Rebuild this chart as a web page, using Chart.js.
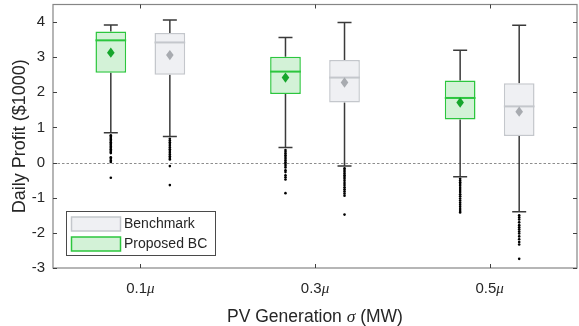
<!DOCTYPE html>
<html>
<head>
<meta charset="utf-8">
<script src="https://cdn.jsdelivr.net/npm/chart.js@4.4.1/dist/chart.umd.min.js"></script>
<style>
  html, body { margin: 0; padding: 0; background: #fff; }
  canvas { display: block; }
</style>
</head>
<body>
<canvas id="c" width="579" height="326"></canvas>
<script>
// PV generation spread levels (multiples of mu)
const categories = ['0.1', '0.3', '0.5'];
const yTicks = [-3, -2, -1, 0, 1, 2, 3, 4];

// Proposed BC daily profit statistics ($1000)
const propHigh   = [3.92, 3.56, 3.20];
const propQ3     = [3.73, 3.01, 2.34];
const propMedian = [3.48, 2.59, 1.84];
const propQ1     = [2.56, 1.95, 1.23];
const propLow    = [0.85, 0.43, -0.40];
const propMean   = [3.13, 2.42, 1.71];
const propOutliers = [
  [0.78, 0.74, 0.70, 0.66, 0.62, 0.58, 0.54, 0.50, 0.46, 0.42, 0.38, 0.34, 0.30, 0.27, 0.15, 0.11, 0.06, 0.02, -0.43],
  [0.36, 0.31, 0.26, 0.21, 0.16, 0.11, 0.06, 0.01, -0.04, -0.09, -0.14, -0.22, -0.27, -0.36, -0.42, -0.48, -0.87],
  [-0.46, -0.51, -0.56, -0.61, -0.66, -0.72, -0.78, -0.84, -0.90, -0.96, -1.02, -1.08, -1.14, -1.20, -1.26, -1.32, -1.38, -1.42]
];

// Benchmark daily profit statistics ($1000)
const benchHigh   = [4.06, 3.99, 3.91];
const benchQ3     = [3.69, 2.92, 2.26];
const benchMedian = [3.42, 2.42, 1.60];
const benchQ1     = [2.50, 1.71, 0.76];
const benchLow    = [0.74, -0.10, -1.40];
const benchMean   = [3.06, 2.28, 1.45];
const benchOutliers = [
  [0.68, 0.63, 0.58, 0.53, 0.48, 0.43, 0.38, 0.33, 0.28, 0.23, 0.18, 0.13, 0.09, -0.10, -0.64],
  [-0.16, -0.21, -0.26, -0.31, -0.36, -0.41, -0.46, -0.52, -0.58, -0.64, -0.70, -0.76, -0.82, -0.88, -0.94, -1.48],
  [-1.50, -1.56, -1.62, -1.70, -1.78, -1.84, -1.90, -1.96, -2.02, -2.10, -2.18, -2.26, -2.33, -2.74]
];

const seriesNames = ['Proposed BC', 'Benchmark'];

const green = { fill: 'rgb(211,242,215)', line: 'rgb(44,198,62)', mean: 'rgb(22,166,44)' };
const grey  = { fill: 'rgb(239,240,243)', line: 'rgb(196,199,204)', mean: 'rgb(168,171,176)' };

const stats = [
  { high: propHigh, q3: propQ3, med: propMedian, q1: propQ1, low: propLow, mean: propMean, out: propOutliers, col: green },
  { high: benchHigh, q3: benchQ3, med: benchMedian, q1: benchQ1, low: benchLow, mean: benchMean, out: benchOutliers, col: grey }
];

const FONT = '"Liberation Sans", Arial, sans-serif';
const GREEK = '"Liberation Serif", "Times New Roman", serif';
const TEXT = '#262626';

// draw a run of text pieces with different fonts, centred on x
function drawRich(ctx, parts, x, y) {
  let total = 0;
  parts.forEach(p => { ctx.font = p.font; total += ctx.measureText(p.text).width; });
  let cx = x - total / 2;
  ctx.textAlign = 'left';
  parts.forEach(p => { ctx.font = p.font; ctx.fillText(p.text, cx, y); cx += ctx.measureText(p.text).width; });
}

const boxPlot = {
  id: 'boxPlot',
  beforeDatasetsDraw(chart) {
    const { ctx, chartArea: a, scales: { y } } = chart;
    ctx.save();
    // zero reference line
    const y0 = Math.round(y.getPixelForValue(0)) + 0.5;
    ctx.strokeStyle = '#707070';
    ctx.lineWidth = 0.8;
    ctx.setLineDash([2.5, 2]);
    ctx.beginPath(); ctx.moveTo(a.left, y0); ctx.lineTo(a.right, y0); ctx.stroke();
    ctx.setLineDash([]);
    // whiskers and caps
    ctx.strokeStyle = '#3a3a3a';
    ctx.lineWidth = 1.5;
    stats.forEach((s, di) => {
      chart.getDatasetMeta(di).data.forEach((bar, i) => {
        const x = bar.x;
        const pts = [[s.q3[i], s.high[i]], [s.q1[i], s.low[i]]];
        pts.forEach(([from, to]) => {
          const py = y.getPixelForValue(to);
          ctx.beginPath();
          ctx.moveTo(x, y.getPixelForValue(from)); ctx.lineTo(x, py);
          ctx.moveTo(x - 7, py); ctx.lineTo(x + 7, py);
          ctx.stroke();
        });
      });
    });
    ctx.restore();
  },
  afterDatasetsDraw(chart) {
    const { ctx, scales: { y } } = chart;
    ctx.save();
    stats.forEach((s, di) => {
      chart.getDatasetMeta(di).data.forEach((bar, i) => {
        const x = bar.x, hw = bar.width / 2;
        // median
        const my = y.getPixelForValue(s.med[i]);
        ctx.strokeStyle = s.col.line; ctx.lineWidth = 2;
        ctx.beginPath(); ctx.moveTo(x - hw, my); ctx.lineTo(x + hw, my); ctx.stroke();
        // mean diamond
        const ey = y.getPixelForValue(s.mean[i]);
        ctx.fillStyle = s.col.mean;
        ctx.beginPath();
        ctx.moveTo(x, ey - 5.2); ctx.lineTo(x + 3.8, ey); ctx.lineTo(x, ey + 5.2); ctx.lineTo(x - 3.8, ey);
        ctx.closePath(); ctx.fill();
        // outliers
        ctx.fillStyle = '#000';
        s.out[i].forEach(v => {
          ctx.beginPath(); ctx.arc(x, y.getPixelForValue(v), 1.3, 0, Math.PI * 2); ctx.fill();
        });
      });
    });
    ctx.restore();
  },
  afterDraw(chart) {
    const { ctx, chartArea: a, scales: { x, y } } = chart;
    ctx.save();
    // axes frame
    ctx.strokeStyle = '#858585';
    ctx.lineWidth = 1.2;
    ctx.strokeRect(a.left, a.top, a.right - a.left, a.bottom - a.top);
    // inward tick marks
    ctx.strokeStyle = '#404040';
    ctx.lineWidth = 1;
    ctx.beginPath();
    yTicks.forEach(v => {
      const py = Math.round(y.getPixelForValue(v)) + 0.5;
      ctx.moveTo(a.left, py); ctx.lineTo(a.left + 4, py);
      ctx.moveTo(a.right - 4, py); ctx.lineTo(a.right, py);
    });
    categories.forEach((c, i) => {
      const px = Math.round(x.getPixelForTick(i)) + 0.5;
      ctx.moveTo(px, a.bottom); ctx.lineTo(px, a.bottom - 4);
      ctx.moveTo(px, a.top); ctx.lineTo(px, a.top + 4);
    });
    ctx.stroke();

    // category labels
    ctx.fillStyle = TEXT;
    ctx.textBaseline = 'alphabetic';
    categories.forEach((c, i) => {
      drawRich(ctx, [
        { text: c, font: '15px ' + FONT },
        { text: 'μ', font: 'italic 15px ' + GREEK }
      ], x.getPixelForTick(i), 293);
    });
    // x axis title
    drawRich(ctx, [
      { text: 'PV Generation ', font: '17.5px ' + FONT },
      { text: 'σ', font: 'italic 17.5px ' + GREEK },
      { text: ' (MW)', font: '17.5px ' + FONT }
    ], (a.left + a.right) / 2, 322);
    // y axis title
    ctx.save();
    ctx.translate(25, (a.top + a.bottom) / 2);
    ctx.rotate(-Math.PI / 2);
    ctx.textAlign = 'center';
    ctx.font = '18px ' + FONT;
    ctx.fillText('Daily Profit ($1000)', 0, 0);
    ctx.restore();

    // legend
    const lx = 66.5, ly = 211.5, lw = 149, lh = 44;
    ctx.fillStyle = '#fff';
    ctx.fillRect(lx, ly, lw, lh);
    ctx.strokeStyle = '#4a4a4a';
    ctx.lineWidth = 1;
    ctx.strokeRect(lx, ly, lw, lh);
    const entries = [
      { name: seriesNames[1], col: grey, cy: 224 },
      { name: seriesNames[0], col: green, cy: 244 }
    ];
    entries.forEach(e => {
      ctx.fillStyle = e.col.fill;
      ctx.fillRect(71.5, e.cy - 7, 49, 14);
      ctx.strokeStyle = e.col.line;
      ctx.lineWidth = 1.5;
      ctx.strokeRect(71.5, e.cy - 7, 49, 14);
      ctx.fillStyle = TEXT;
      ctx.font = '14px ' + FONT;
      ctx.textAlign = 'left';
      ctx.textBaseline = 'middle';
      ctx.fillText(e.name, 124, e.cy + 0.5);
    });
    ctx.restore();
  }
};

new Chart(document.getElementById('c'), {
  type: 'bar',
  data: {
    labels: categories,
    datasets: stats.map((s, di) => ({
      label: seriesNames[di],
      data: categories.map((c, i) => [s.q1[i], s.q3[i]]),
      backgroundColor: s.col.fill,
      borderColor: s.col.line,
      borderWidth: 1.5,
      borderSkipped: false,
      categoryPercentage: 0.676,
      barPercentage: 0.52
    }))
  },
  options: {
    responsive: false,
    animation: false,
    devicePixelRatio: 1,
    layout: { padding: { top: 4.5, right: 2, left: 0, bottom: 0 } },
    plugins: { legend: { display: false }, tooltip: { enabled: false } },
    events: [],
    scales: {
      x: {
        type: 'category',
        grid: { display: false },
        border: { display: false },
        ticks: { display: false },
        afterFit: s => { s.height = 58; s.paddingLeft = 0; s.paddingRight = 0; }
      },
      y: {
        min: -3,
        max: 4.5,
        afterBuildTicks: s => { s.ticks = yTicks.map(v => ({ value: v })); },
        grid: { display: false, drawTicks: false },
        border: { display: false },
        ticks: { color: TEXT, padding: 8, font: { family: FONT, size: 15 } },
        afterFit: s => { s.width = 53; s.paddingTop = 0; s.paddingBottom = 0; }
      }
    }
  },
  plugins: [boxPlot]
});
</script>
</body>
</html>
